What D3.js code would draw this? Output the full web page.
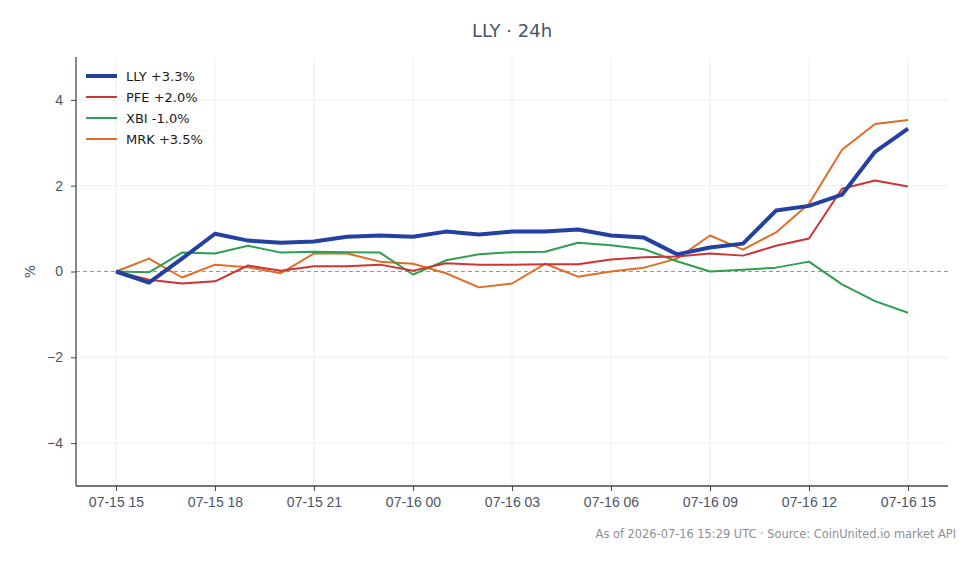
<!DOCTYPE html>
<html>
<head>
<meta charset="utf-8">
<script src="https://cdn.jsdelivr.net/npm/d3@7"></script>
<style>
  body { margin: 0; background: #fff; }
  svg { font-family: "DejaVu Sans", sans-serif; }
</style>
</head>
<body>
<svg id="chart" width="980" height="564"></svg>
<script>
// hourly points, 07-15 15:00 -> 07-16 15:00
var start = new Date(2026, 6, 15, 15);
var hours = d3.range(25).map(function(i){ return new Date(start.getTime() + i * 3600e3); });

var lly = [0, -0.26, 0.3, 0.88, 0.72, 0.67, 0.7, 0.81, 0.84, 0.81, 0.93, 0.86, 0.93, 0.93, 0.98, 0.84, 0.79, 0.4, 0.56, 0.65, 1.42, 1.53, 1.79, 2.79, 3.33];
var pfe = [0, -0.19, -0.28, -0.23, 0.14, 0.02, 0.12, 0.12, 0.16, 0.02, 0.19, 0.16, 0.16, 0.17, 0.17, 0.28, 0.33, 0.35, 0.42, 0.37, 0.6, 0.77, 1.93, 2.12, 1.98];
var xbi = [0, -0.02, 0.44, 0.42, 0.6, 0.44, 0.46, 0.45, 0.44, -0.07, 0.26, 0.4, 0.45, 0.46, 0.67, 0.61, 0.52, 0.24, 0.0, 0.04, 0.09, 0.23, -0.3, -0.69, -0.96];
var mrk = [0, 0.3, -0.14, 0.16, 0.1, -0.04, 0.42, 0.42, 0.23, 0.18, -0.04, -0.37, -0.28, 0.18, -0.12, 0.0, 0.09, 0.3, 0.84, 0.51, 0.91, 1.58, 2.84, 3.44, 3.53];

var names = ["LLY +3.3%", "PFE +2.0%", "XBI -1.0%", "MRK +3.5%"];
var colors = ["#2341a0", "#cf3434", "#2e9e4f", "#e06c25"];
var widths = [4, 2, 2, 2];
var series = [lly, pfe, xbi, mrk];

var yTicks = [-4, -2, 0, 2, 4];

var svg = d3.select("svg#chart"),
  margin = {top: 57, right: 32, bottom: 78, left: 76},
  width = +svg.attr("width") - margin.left - margin.right,
  height = +svg.attr("height") - margin.top - margin.bottom,
  g = svg.append("g").attr("transform", "translate(" + margin.left + "," + margin.top + ")");

var pad = 40 / 33 * 3600e3; // ~1.2h padding each side
var x = d3.scaleTime()
  .domain([new Date(hours[0].getTime() - pad), new Date(hours[24].getTime() + pad)])
  .range([0, width]);

var y = d3.scaleLinear()
  .domain([-5, 5])
  .range([height, 0]);

var xTicks = hours.filter(function(d, i){ return i % 3 == 0; });
var fmt = d3.timeFormat("%m-%d %H");

// grid
g.append("g").selectAll("line").data(xTicks).enter().append("line")
  .attr("x1", function(d){ return x(d); }).attr("x2", function(d){ return x(d); })
  .attr("y1", 0).attr("y2", height)
  .attr("stroke", "#ebedf0").attr("stroke-width", 1);
g.append("g").selectAll("line").data(yTicks.filter(function(d){ return d != 0; })).enter().append("line")
  .attr("x1", 0).attr("x2", width)
  .attr("y1", function(d){ return y(d); }).attr("y2", function(d){ return y(d); })
  .attr("stroke", "#ebedf0").attr("stroke-width", 1);

// zero line
g.append("line")
  .attr("x1", 0).attr("x2", width)
  .attr("y1", y(0)).attr("y2", y(0))
  .attr("stroke", "#8a99ad").attr("stroke-width", 1)
  .attr("stroke-dasharray", "4,3");

// axes
var xAxis = d3.axisBottom(x).tickValues(xTicks).tickFormat(fmt).tickSize(5).tickPadding(6);
var yAxis = d3.axisLeft(y).tickValues(yTicks).tickFormat(function(d){ return d < 0 ? "\u2212" + (-d) : d; }).tickSize(5).tickPadding(8);

function styleAxis(a) {
  a.select(".domain").attr("stroke", "#3d4757").attr("stroke-width", 1.3);
  a.selectAll(".tick line").attr("stroke", "#3d4757");
  a.selectAll(".tick text").attr("fill", "#4a5568").style("font-size", "14px");
}

g.append("g")
  .attr("transform", "translate(0," + height + ")")
  .call(xAxis)
  .call(styleAxis)
  .call(function(a){ a.select(".domain").attr("d", "M0,0H" + width); });

g.append("g")
  .call(yAxis)
  .call(styleAxis)
  .call(function(a){ a.select(".domain").attr("d", "M0," + height + "V0"); });

// lines
var line = d3.line()
  .x(function(d, i){ return x(hours[i]); })
  .y(function(d){ return y(d); });

[3, 2, 1, 0].forEach(function(k){
  g.append("path")
    .datum(series[k])
    .attr("d", line)
    .attr("fill", "none")
    .attr("stroke", colors[k])
    .attr("stroke-width", widths[k])
    .attr("stroke-linejoin", "round");
});

// legend
var leg = g.append("g").attr("transform", "translate(10,19)");
names.forEach(function(n, i){
  var r = leg.append("g").attr("transform", "translate(0," + (i * 21) + ")");
  r.append("line").attr("x1", 0).attr("x2", 31).attr("y1", 0).attr("y2", 0)
    .attr("stroke", colors[i]).attr("stroke-width", widths[i]);
  r.append("text").attr("x", 40).attr("y", 0).attr("dy", "0.35em")
    .attr("fill", "#1a1a1a").style("font-size", "13px").text(n);
});

// title, axis label, footer
svg.append("text")
  .attr("x", 512).attr("y", 37)
  .attr("text-anchor", "middle")
  .attr("fill", "#4a5568")
  .style("font-size", "18px")
  .text("LLY \u00b7 24h");

svg.append("text")
  .attr("transform", "translate(35," + (margin.top + y(0)) + ") rotate(-90)")
  .attr("text-anchor", "middle")
  .attr("fill", "#4a5568")
  .style("font-size", "14px")
  .text("%");

svg.append("text")
  .attr("x", 956).attr("y", 538)
  .attr("text-anchor", "end")
  .attr("fill", "#8a8f98")
  .style("font-size", "11.4px")
  .text("As of 2026-07-16 15:29 UTC \u00b7 Source: CoinUnited.io market API");
</script>
</body>
</html>
